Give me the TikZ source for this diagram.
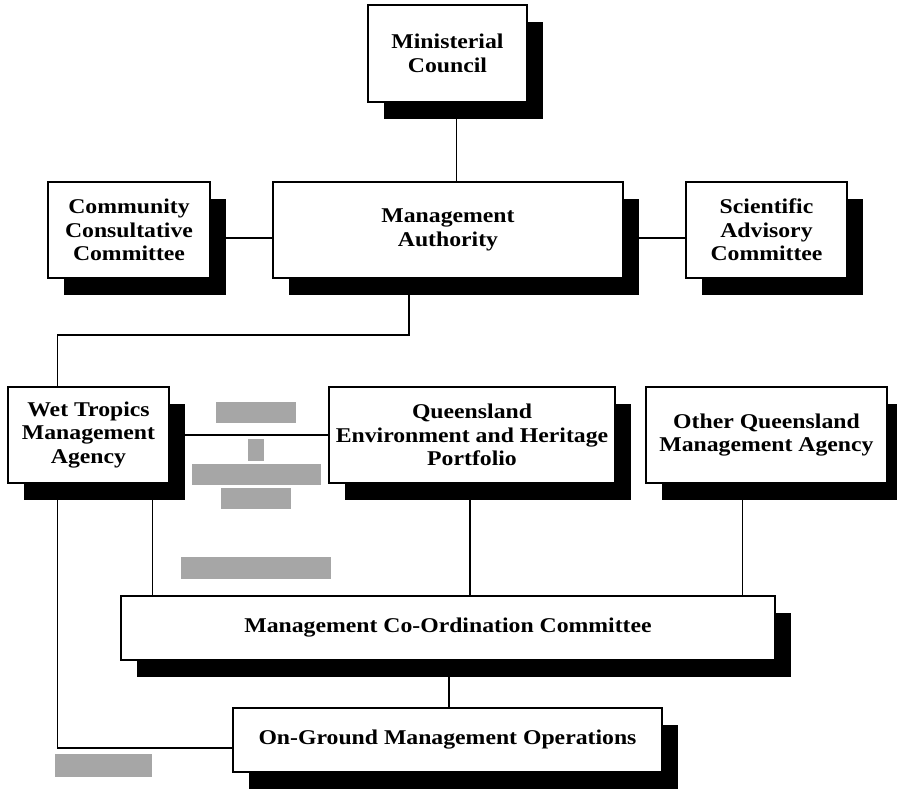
\documentclass[tikz,border=0pt]{standalone}
\usepackage{fontspec}
\newfontfamily\boxfont[FakeStretch=1.13]{Liberation Serif}
\usetikzlibrary{shadows}
\pgfdeclarelayer{back}
\pgfdeclarelayer{bg}
\pgfsetlayers{back,bg,main}
\begin{document}
\begin{tikzpicture}[x=1pt,y=-1pt,
  box/.style={draw, line width=1.6pt, fill=white, anchor=north west,
    inner sep=0pt, outer sep=0pt, align=center,
    font=\boxfont\bfseries\fontsize{21}{23.5}\selectfont,
    drop shadow={shadow xshift=16pt, shadow yshift=-17pt, fill=black, opacity=1}},
  link/.style={line width=1.6pt},
  hatch/.style={fill=gray!70, draw=none}]
\useasboundingbox (0,0) rectangle (897,796);
\clip (0,0) rectangle (897,796);
\begin{pgfonlayer}{back}
\fill[white] (0,0) rectangle (897,796);
\end{pgfonlayer}

\node[box, minimum width=159pt, minimum height=97pt] (MC) at (368,5) {Ministerial\\Council};
\node[box, minimum width=162pt, minimum height=96pt] (CCC) at (48,182) {Community\\Consultative\\Committee};
\node[box, minimum width=350pt, minimum height=96pt] (MA) at (273,182) {Management\\Authority};
\node[box, minimum width=161pt, minimum height=96pt] (SAC) at (686,182) {Scientific\\Advisory\\Committee};
\node[box, minimum width=161pt, minimum height=96pt] (WT) at (8,387) {Wet Tropics\\Management\\Agency};
\node[box, minimum width=286pt, minimum height=96pt] (QEH) at (329,387) {Queensland\\Environment and Heritage\\Portfolio};
\node[box, minimum width=241pt, minimum height=96pt] (OQ) at (646,387) {Other Queensland\\Management Agency};
\node[box, minimum width=654pt, minimum height=64pt] (MCC) at (121,596) {Management Co-Ordination Committee};
\node[box, minimum width=429pt, minimum height=64pt] (OGM) at (233,708) {On-Ground Management Operations};

\begin{pgfonlayer}{bg}
\draw[link] ([xshift=9pt]MC.south) -- ([xshift=9pt]MC.south |- MA.north);
\draw[link] ([yshift=-8pt]CCC.east) -- ([yshift=-8pt]CCC.east -| MA.west);
\draw[link] ([yshift=-8pt]MA.east) -- ([yshift=-8pt]MA.east -| SAC.west);
\draw[link] ([xshift=-39pt]MA.south) -- ++(0,57) -| ([xshift=-31pt]WT.north);
\draw[link] (WT.east) -- (QEH.west);
\draw[link] ([xshift=-31pt]WT.south) |- ([yshift=-8pt]OGM.west);
\draw[link] ([xshift=64pt]WT.south) -- ([xshift=64pt]WT.south |- MCC.north);
\draw[link] ([xshift=-2pt]QEH.south) -- ([xshift=-2pt]QEH.south |- MCC.north);
\draw[link] ([xshift=-24pt]OQ.south) -- ([xshift=-24pt]OQ.south |- MCC.north);
\draw[link] ([xshift=1pt]MCC.south) -- ([xshift=1pt]MCC.south |- OGM.north);
\end{pgfonlayer}

\fill[hatch] (216,402) rectangle (296,423);
\fill[hatch] (248,439) rectangle (264,461);
\fill[hatch] (192,464) rectangle (321,485);
\fill[hatch] (221,488) rectangle (291,509);
\fill[hatch] (181,557) rectangle (331,579);
\fill[hatch] (55,754) rectangle (152,777);
\end{tikzpicture}
\end{document}
